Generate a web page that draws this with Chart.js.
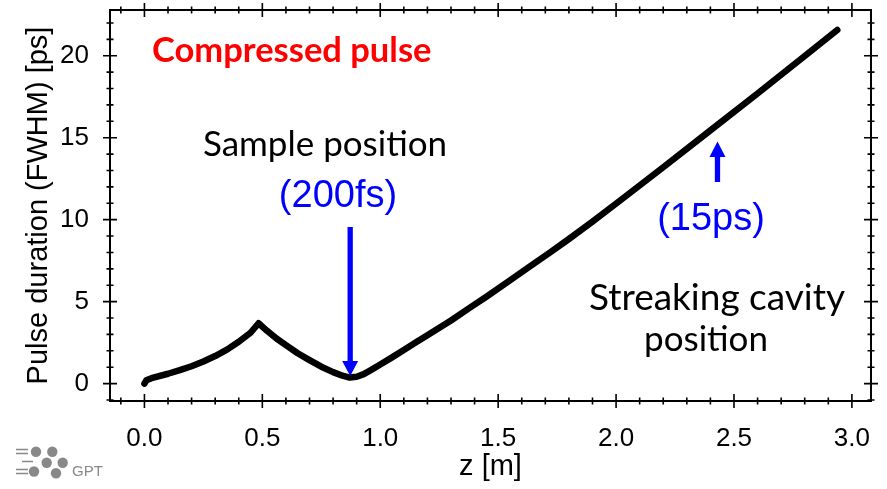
<!DOCTYPE html>
<html>
<head>
<meta charset="utf-8">
<script src="https://cdn.jsdelivr.net/npm/chart.js@4/dist/chart.umd.min.js"></script>
<style>
  html, body { margin: 0; padding: 0; background: #ffffff; }
  #wrap { width: 887px; height: 489px; position: relative; }
</style>
</head>
<body>
<div id="wrap"><canvas id="c" width="887" height="489"></canvas></div>
<script>
// ---- data ----
const zPositions = [0, 0.008, 0.03, 0.1, 0.15, 0.2, 0.25, 0.3, 0.35, 0.4, 0.45, 0.484,
  0.52, 0.56, 0.6, 0.65, 0.7, 0.75, 0.8, 0.84, 0.87,
  0.9, 0.93, 0.96, 1.0, 1.05, 1.1, 1.15, 1.2, 1.3, 1.382, 1.45, 1.55, 1.65, 1.722, 1.8, 1.9, 2.02, 2.2, 2.4, 2.6, 2.8, 2.938];
const pulseDuration = [0, 0.2, 0.33, 0.6, 0.82, 1.06, 1.35, 1.68, 2.07, 2.55, 3.1, 3.68,
  3.22, 2.75, 2.35, 1.85, 1.43, 1.03, 0.7, 0.48, 0.37,
  0.42, 0.58, 0.82, 1.16, 1.6, 2.05, 2.5, 2.95, 3.85, 4.65, 5.3, 6.3, 7.3, 8.02, 8.82, 9.88, 11.2, 13.2, 15.45, 17.7, 19.98, 21.57];
const xTickLabels = [0, 0.5, 1.0, 1.5, 2.0, 2.5, 3.0];
const yTickLabels = [0, 5, 10, 15, 20];
const xMinorTicks = [-0.1,0.1,0.2,0.3,0.4,0.6,0.7,0.8,0.9,1.1,1.2,1.3,1.4,1.6,1.7,1.8,1.9,2.1,2.2,2.3,2.4,2.6,2.7,2.8,2.9];
const yMinorTicks = [-1,1,2,3,4,6,7,8,9,11,12,13,14,16,17,18,19,21,22];
const xTitle = 'z [m]';
const yTitle = 'Pulse duration (FWHM) [ps]';
const sampleZ = 0.8725;   // down arrow (sample position)
const cavityZ = 2.43;     // up arrow (streaking cavity)

const points = zPositions.map((z, i) => ({ x: z, y: pulseDuration[i] }));

const framePlugin = {
  id: 'frameTicks',
  afterDraw(chart) {
    const { ctx, chartArea: a, scales: { x, y } } = chart;
    ctx.save();
    ctx.strokeStyle = '#000';
    ctx.lineWidth = 2;
    ctx.strokeRect(a.left, a.top, a.right - a.left, a.bottom - a.top);
    ctx.lineWidth = 1.6;
    ctx.beginPath();
    const tickX = (v, len) => {
      const px = x.getPixelForValue(v);
      ctx.moveTo(px, a.bottom - len); ctx.lineTo(px, a.bottom + len);
      ctx.moveTo(px, a.top - len); ctx.lineTo(px, a.top + len);
    };
    const tickY = (v, len) => {
      const py = y.getPixelForValue(v);
      ctx.moveTo(a.left - len, py); ctx.lineTo(a.left + len, py);
      ctx.moveTo(a.right - len, py); ctx.lineTo(a.right + len, py);
    };
    xTickLabels.forEach(v => tickX(v, 7));
    xMinorTicks.forEach(v => tickX(v, 3.5));
    yTickLabels.forEach(v => tickY(v, 7));
    yMinorTicks.forEach(v => tickY(v, 3.5));
    ctx.stroke();
    ctx.restore();
  }
};

const annotPlugin = {
  id: 'annotations',
  afterDatasetsDraw(chart) {
    const { ctx, scales: { x, y } } = chart;
    ctx.save();
    ctx.textBaseline = 'middle';
    ctx.textAlign = 'left';
    ctx.fillStyle = '#ff0000';
    ctx.font = 'bold 34.5px Lato';
    ctx.fillText('Compressed pulse', 152, 51);

    ctx.fillStyle = '#000000';
    ctx.textAlign = 'center';
    ctx.font = '35px Lato';
    ctx.fillText('Sample position', 325, 145);
    ctx.font = '37px Lato';
    ctx.fillText('Streaking cavity', 717, 298);
    ctx.font = '35px Lato';
    ctx.fillText('position', 706, 340);

    ctx.fillStyle = '#0000ff';
    ctx.font = '38px "Liberation Sans"';
    ctx.fillText('(200fs)', 338, 197);
    ctx.fillText('(15ps)', 711, 220);

    // down arrow
    ctx.strokeStyle = '#0000ff';
    ctx.lineWidth = 5.3;
    const ax = x.getPixelForValue(sampleZ);
    ctx.beginPath(); ctx.moveTo(ax, 227); ctx.lineTo(ax, 363); ctx.stroke();
    ctx.beginPath(); ctx.moveTo(ax - 8, 361); ctx.lineTo(ax + 8, 361); ctx.lineTo(ax, 376); ctx.closePath(); ctx.fill();
    // up arrow
    const bx = x.getPixelForValue(cavityZ);
    ctx.beginPath(); ctx.moveTo(bx, 182); ctx.lineTo(bx, 156); ctx.stroke();
    ctx.beginPath(); ctx.moveTo(bx - 8, 157); ctx.lineTo(bx + 8, 157); ctx.lineTo(bx, 141.5); ctx.closePath(); ctx.fill();

    // GPT logo
    ctx.fillStyle = '#888888';
    ctx.strokeStyle = '#888888';
    ctx.lineWidth = 1.6;
    ctx.beginPath();
    [[16,28,449.5],[16,28,453.5],[22,33,461.5],[16,28,469.5],[16,28,473.5]].forEach(([x1,x2,yy]) => { ctx.moveTo(x1, yy); ctx.lineTo(x2, yy); });
    ctx.stroke();
    [[36,451.7],[52.3,451.7],[46.7,462.7],[62.7,462.7],[34,471.5],[56,473.3]].forEach(([cx,cy]) => {
      ctx.beginPath(); ctx.arc(cx, cy, 5.2, 0, Math.PI * 2); ctx.fill();
    });
    ctx.font = '15px "Liberation Sans"';
    ctx.textAlign = 'left';
    ctx.fillText('GPT', 72, 472);
    ctx.restore();
  }
};

new Chart(document.getElementById('c'), {
  type: 'line',
  data: {
    datasets: [{
      data: points,
      borderColor: '#000000',
      borderWidth: 6.5,
      borderCapStyle: 'round',
      borderJoinStyle: 'round',
      pointRadius: 0,
      tension: 0,
      fill: false
    }]
  },
  options: {
    responsive: false,
    animation: false,
    layout: { padding: { left: 0, right: 16, top: 10, bottom: 0 } },
    plugins: { legend: { display: false }, tooltip: { enabled: false } },
    scales: {
      x: {
        type: 'linear',
        min: -0.146, max: 3.081,
        afterBuildTicks: s => { s.ticks = xTickLabels.map(v => ({ value: v })); },
        afterFit: s => { s.height = 88; s.paddingLeft = 0; s.paddingRight = 0; },
        grid: { display: false },
        border: { display: false },
        ticks: {
          color: '#000', padding: 14,
          font: { family: 'Liberation Sans', size: 26 },
          maxRotation: 0, autoSkip: false,
          callback: v => v.toFixed(1)
        },
        title: {
          display: true, text: xTitle, color: '#000',
          font: { family: 'Liberation Sans', size: 29 },
          padding: { top: 0, bottom: 5 }
        }
      },
      y: {
        type: 'linear',
        min: -1.062, max: 22.79,
        afterBuildTicks: s => { s.ticks = yTickLabels.map(v => ({ value: v })); },
        afterFit: s => { s.width = 110; s.paddingTop = 0; s.paddingBottom = 0; },
        grid: { display: false },
        border: { display: false },
        ticks: {
          color: '#000', padding: 13,
          font: { family: 'Liberation Sans', size: 26 },
          autoSkip: false,
          callback: v => String(v)
        },
        title: {
          display: true, text: yTitle, color: '#000',
          font: { family: 'Liberation Sans', size: 29 },
          padding: { top: 22, bottom: 0 }
        }
      }
    }
  },
  plugins: [framePlugin, annotPlugin]
});
</script>
</body>
</html>
